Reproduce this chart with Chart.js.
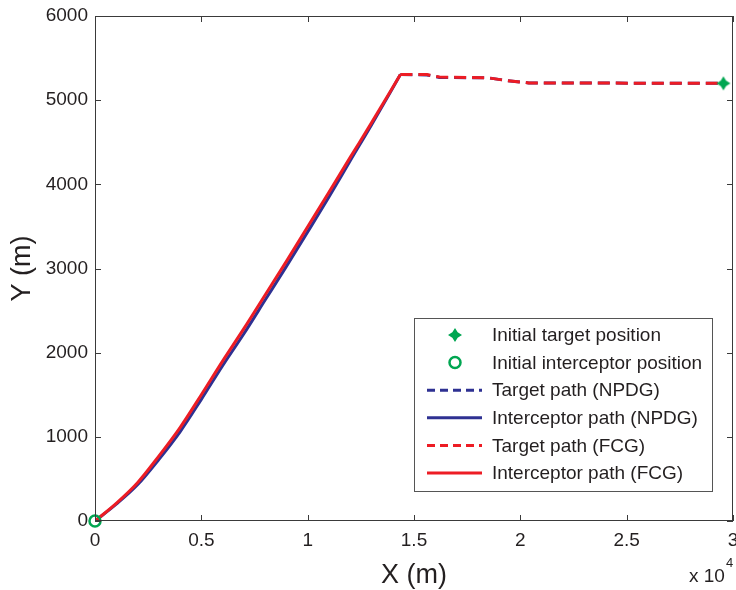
<!DOCTYPE html>
<html>
<head>
<meta charset="utf-8">
<script src="https://cdn.jsdelivr.net/npm/chart.js@4.4.1/dist/chart.umd.min.js"></script>
<style>
  html, body { margin: 0; padding: 0; background: #fff; }
  #wrap { width: 736px; height: 590px; }
</style>
</head>
<body>
<div id="wrap"><canvas id="chart-path" width="736" height="590"></canvas></div>
<script>
// Trajectories in the X-Y plane, metres

// interceptor, FCG guidance
const interceptorFcgX = [0, 1000, 2000, 3000, 4000, 5000, 6000, 7000, 8000, 9000, 10000, 11000, 12000, 13000, 14360];
const interceptorFcgY = [0, 210, 455, 770, 1110, 1500, 1900, 2285, 2685, 3085, 3495, 3905, 4320, 4730, 5305];

// interceptor, NPDG guidance
const interceptorNpdgX = [0, 1000, 2000, 3000, 4000, 5000, 6000, 7000, 8000, 9000, 10000, 11000, 12000, 13000, 14360];
const interceptorNpdgY = [0, 200, 430, 730, 1060, 1445, 1845, 2225, 2625, 3025, 3435, 3850, 4280, 4705, 5305];

// target (flies right to left until intercept)
const targetX = [14360, 15600, 16200, 18500, 19300, 20400, 29550];
const targetFcgY = [5305, 5305, 5275, 5265, 5235, 5205, 5200];
const targetNpdgY = [5305, 5300, 5270, 5265, 5235, 5205, 5200];

// start positions
const targetStartX = [29550];
const targetStartY = [5200];
const interceptorStartX = [0];
const interceptorStartY = [0];

// axes
const xTicks = [0, 5000, 10000, 15000, 20000, 25000, 30000];
const yTicks = [0, 1000, 2000, 3000, 4000, 5000, 6000];

const RED = '#ed1c24';
const BLUE = '#2e3192';
const GREEN = '#00a651';
const INK = '#231f20';
const FONT = '"Liberation Sans", Arial, Helvetica, sans-serif';

function toPoints(xs, ys) {
  return xs.map((x, i) => ({ x: x, y: ys[i] }));
}

// filled 4-point star used as a point style
function makeStar(outer, inner, color) {
  const size = Math.ceil(outer * 2 + 2);
  const c = document.createElement('canvas');
  c.width = size; c.height = size;
  const g = c.getContext('2d');
  const cx = size / 2, cy = size / 2;
  g.beginPath();
  for (let i = 0; i < 8; i++) {
    const r = i % 2 === 0 ? outer : inner;
    const a = -Math.PI / 2 + i * Math.PI / 4;
    const px = cx + r * Math.cos(a), py = cy + r * Math.sin(a);
    if (i === 0) g.moveTo(px, py); else g.lineTo(px, py);
  }
  g.closePath();
  g.fillStyle = color;
  g.fill();
  return c;
}

const starIcon = makeStar(7, 3.8, GREEN);

// frame with inward ticks, inset legend, x-axis exponent
const framePlugin = {
  id: 'frame',
  afterDraw(chart) {
    const ctx = chart.ctx;
    const a = chart.chartArea;
    const xs = chart.scales.x, ys = chart.scales.y;
    ctx.save();
    ctx.strokeStyle = '#3a3a3a';
    ctx.lineWidth = 1;
    ctx.strokeRect(a.left + 0.5, a.top + 0.5, a.right - a.left - 1, a.bottom - a.top - 1);
    ctx.beginPath();
    xTicks.forEach(v => {
      const px = Math.round(xs.getPixelForValue(v)) + 0.5;
      ctx.moveTo(px, a.bottom); ctx.lineTo(px, a.bottom - 6);
      ctx.moveTo(px, a.top); ctx.lineTo(px, a.top + 6);
    });
    yTicks.forEach(v => {
      const py = Math.round(ys.getPixelForValue(v)) + 0.5;
      ctx.moveTo(a.left, py); ctx.lineTo(a.left + 6, py);
      ctx.moveTo(a.right, py); ctx.lineTo(a.right - 6, py);
    });
    ctx.stroke();

    // legend
    const box = { x: 414.5, y: 318.5, w: 298, h: 173 };
    ctx.fillStyle = '#fff';
    ctx.fillRect(box.x, box.y, box.w, box.h);
    ctx.strokeStyle = '#555';
    ctx.strokeRect(box.x, box.y, box.w, box.h);
    ctx.font = '19px ' + FONT;
    ctx.textBaseline = 'middle';
    ctx.textAlign = 'left';
    chart.data.datasets.forEach((ds, i) => {
      const y = 335 + i * 27.6;
      if (ds.showLine === false) {
        if (ds.pointStyle === 'circle') {
          ctx.beginPath();
          ctx.arc(455, y, ds.pointRadius, 0, Math.PI * 2);
          ctx.strokeStyle = ds.pointBorderColor;
          ctx.lineWidth = ds.pointBorderWidth;
          ctx.stroke();
        } else {
          const s = ds.pointStyle;
          ctx.drawImage(s, 455 - s.width / 2, y - s.height / 2);
        }
      } else {
        ctx.beginPath();
        ctx.setLineDash([8, 5]);
        if (!ds.borderDash) ctx.setLineDash([]);
        ctx.strokeStyle = ds.borderColor;
        ctx.lineWidth = ds.borderWidth;
        ctx.moveTo(427, y); ctx.lineTo(482, y);
        ctx.stroke();
        ctx.setLineDash([]);
      }
      ctx.fillStyle = INK;
      ctx.fillText(ds.label, 492, y + 1);
    });

    // x 10^4
    ctx.fillStyle = INK;
    ctx.textBaseline = 'alphabetic';
    ctx.font = '19px ' + FONT;
    ctx.fillText('x 10', 689, 582);
    ctx.font = '13px ' + FONT;
    ctx.fillText('4', 726, 567);
    ctx.restore();
  }
};

const lineBase = {
  showLine: true,
  pointRadius: 0,
  borderWidth: 3,
  tension: 0,
  borderCapStyle: 'butt',
  borderJoinStyle: 'round'
};

new Chart(document.getElementById('chart-path'), {
  type: 'scatter',
  data: {
    datasets: [
      {
        label: 'Initial target position',
        data: toPoints(targetStartX, targetStartY),
        showLine: false,
        pointStyle: starIcon,
        pointRadius: 7,
        clip: false,
        order: 0
      },
      {
        label: 'Initial interceptor position',
        data: toPoints(interceptorStartX, interceptorStartY),
        showLine: false,
        pointStyle: 'circle',
        pointRadius: 5.5,
        pointBorderWidth: 2.5,
        pointBorderColor: GREEN,
        pointBackgroundColor: 'rgba(0,0,0,0)',
        clip: false,
        order: 0
      },
      Object.assign({}, lineBase, {
        label: 'Target path (NPDG)',
        data: toPoints(targetX, targetNpdgY),
        borderColor: BLUE,
        borderDash: [12, 6],
        order: 2
      }),
      Object.assign({}, lineBase, {
        label: 'Interceptor path (NPDG)',
        data: toPoints(interceptorNpdgX, interceptorNpdgY),
        borderColor: BLUE,
        cubicInterpolationMode: 'monotone',
        order: 2
      }),
      Object.assign({}, lineBase, {
        label: 'Target path (FCG)',
        data: toPoints(targetX, targetFcgY),
        borderColor: RED,
        borderDash: [12, 6],
        order: 1
      }),
      Object.assign({}, lineBase, {
        label: 'Interceptor path (FCG)',
        data: toPoints(interceptorFcgX, interceptorFcgY),
        borderColor: RED,
        cubicInterpolationMode: 'monotone',
        order: 1
      })
    ]
  },
  options: {
    responsive: false,
    animation: false,
    events: [],
    layout: { autoPadding: false, padding: { top: 16, right: 3, left: 0, bottom: 0 } },
    plugins: {
      legend: { display: false },
      tooltip: { enabled: false }
    },
    scales: {
      x: {
        type: 'linear',
        min: 0,
        max: 30000,
        grid: { display: false, drawTicks: false },
        border: { display: false },
        afterBuildTicks(scale) { scale.ticks = xTicks.map(v => ({ value: v })); },
        afterFit(scale) {
          scale.height = 69;
          scale.paddingLeft = 0;
          scale.paddingRight = 0;
        },
        ticks: {
          autoSkip: false,
          maxRotation: 0,
          padding: 8,
          color: INK,
          font: { family: FONT, size: 19 },
          callback: v => String(v / 10000)
        },
        title: {
          display: true,
          text: 'X (m)',
          color: INK,
          font: { family: FONT, size: 27, lineHeight: 1.1 },
          padding: { top: 0, bottom: 0 }
        }
      },
      y: {
        type: 'linear',
        min: 0,
        max: 6000,
        grid: { display: false, drawTicks: false },
        border: { display: false },
        afterBuildTicks(scale) { scale.ticks = yTicks.map(v => ({ value: v })); },
        afterFit(scale) {
          scale.width = 95;
          scale.paddingTop = 0;
          scale.paddingBottom = 0;
        },
        ticks: {
          autoSkip: false,
          padding: 7,
          color: INK,
          font: { family: FONT, size: 19 },
          callback: v => String(v)
        },
        title: {
          display: true,
          text: 'Y (m)',
          color: INK,
          font: { family: FONT, size: 27 },
          padding: { top: 6, bottom: 0 }
        }
      }
    }
  },
  plugins: [framePlugin]
});
</script>
</body>
</html>
